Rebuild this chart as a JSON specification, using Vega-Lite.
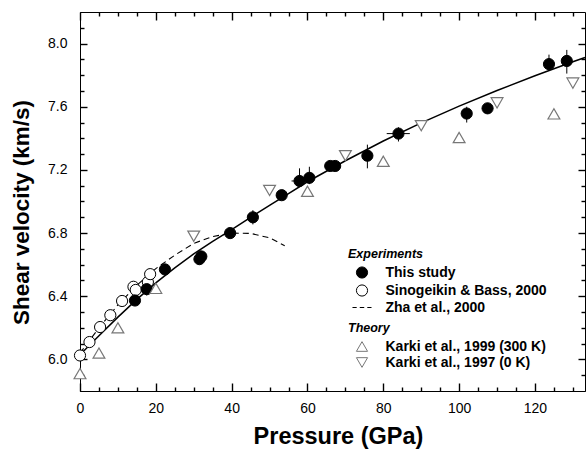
{
  "$schema": "https://vega.github.io/schema/vega-lite/v6.json",
  "width": 505,
  "height": 379,
  "autosize": {"type": "none"},
  "padding": {"left": 80, "top": 12, "right": 1, "bottom": 59},
  "background": "white",
  "config": {
    "view": {"stroke": "black", "strokeWidth": 1},
    "font": "Liberation Sans",
    "axis": {
      "domainColor": "black", "domainWidth": 1, "tickColor": "black", "tickWidth": 1.4, "ticks": true,
      "labelColor": "black", "titleColor": "black",
      "labelFont": "Liberation Sans", "titleFont": "Liberation Sans",
      "labelFontSize": 14, "titleFontSize": 23, "titleFontWeight": "bold",
      "grid": false, "labelOverlap": false, "labelFlush": false, "labelBound": false, "zindex": 1
    },
    "legend": {
      "titleFont": "Liberation Sans", "titleFontSize": 12.5, "titleFontStyle": "italic", "titleFontWeight": "bold",
      "titleColor": "black", "labelColor": "black", "labelLimit": 0,
      "labelFont": "Liberation Sans", "labelFontSize": 14, "labelFontWeight": "bold",
      "symbolSize": 125, "symbolOffset": 7, "labelOffset": 16.5,
      "rowPadding": 2, "titlePadding": 5, "padding": 0, "symbolStrokeWidth": 1
    }
  },
  "datasets": {
    "fit": [
      {"P": 0, "V": 6.03}, {"P": 5, "V": 6.15}, {"P": 10, "V": 6.268}, {"P": 15, "V": 6.38},
      {"P": 20, "V": 6.485}, {"P": 25, "V": 6.58}, {"P": 30, "V": 6.668}, {"P": 35, "V": 6.748},
      {"P": 40, "V": 6.822}, {"P": 45, "V": 6.9}, {"P": 50, "V": 6.975}, {"P": 55, "V": 7.05},
      {"P": 60, "V": 7.125}, {"P": 70, "V": 7.258}, {"P": 80, "V": 7.383}, {"P": 90, "V": 7.498},
      {"P": 100, "V": 7.604}, {"P": 110, "V": 7.703}, {"P": 120, "V": 7.796}, {"P": 130, "V": 7.885},
      {"P": 133.2, "V": 7.912}
    ],
    "zha": [
      {"P": 0, "V": 6.04}, {"P": 5, "V": 6.2}, {"P": 10, "V": 6.345}, {"P": 15, "V": 6.47},
      {"P": 20, "V": 6.575}, {"P": 25, "V": 6.66}, {"P": 30, "V": 6.735}, {"P": 35, "V": 6.778},
      {"P": 40, "V": 6.8}, {"P": 45, "V": 6.798}, {"P": 50, "V": 6.77}, {"P": 54, "V": 6.72}
    ],
    "yerr": [
      {"P": 17.6, "lo": 6.405, "hi": 6.485}, {"P": 31.7, "lo": 6.6, "hi": 6.69},
      {"P": 39.6, "lo": 6.775, "hi": 6.825}, {"P": 45.6, "lo": 6.855, "hi": 6.945},
      {"P": 57.9, "lo": 7.1, "hi": 7.21}, {"P": 60.5, "lo": 7.11, "hi": 7.22},
      {"P": 75.8, "lo": 7.21, "hi": 7.36}, {"P": 84.0, "lo": 7.38, "hi": 7.47},
      {"P": 102.0, "lo": 7.5, "hi": 7.6}, {"P": 123.7, "lo": 7.83, "hi": 7.93},
      {"P": 128.4, "lo": 7.81, "hi": 7.96}
    ],
    "xerr": [
      {"V": 7.13, "lo": 55.8, "hi": 59.8}, {"V": 7.43, "lo": 80.9, "hi": 87.0}
    ],
    "exp": [
      {"series": "Sinogeikin & Bass, 2000", "P": 0, "V": 6.025},
      {"series": "Sinogeikin & Bass, 2000", "P": 2.5, "V": 6.11},
      {"series": "Sinogeikin & Bass, 2000", "P": 5.3, "V": 6.205},
      {"series": "Sinogeikin & Bass, 2000", "P": 8.0, "V": 6.28},
      {"series": "Sinogeikin & Bass, 2000", "P": 11.1, "V": 6.37},
      {"series": "Sinogeikin & Bass, 2000", "P": 14.1, "V": 6.46},
      {"series": "Sinogeikin & Bass, 2000", "P": 14.7, "V": 6.44},
      {"series": "Sinogeikin & Bass, 2000", "P": 17.9, "V": 6.49},
      {"series": "Sinogeikin & Bass, 2000", "P": 18.5, "V": 6.54},
      {"series": "This study", "P": 14.5, "V": 6.373},
      {"series": "This study", "P": 17.6, "V": 6.445},
      {"series": "This study", "P": 22.4, "V": 6.57},
      {"series": "This study", "P": 31.5, "V": 6.635},
      {"series": "This study", "P": 32.0, "V": 6.652},
      {"series": "This study", "P": 39.6, "V": 6.8},
      {"series": "This study", "P": 45.6, "V": 6.9},
      {"series": "This study", "P": 53.2, "V": 7.04},
      {"series": "This study", "P": 57.9, "V": 7.13},
      {"series": "This study", "P": 60.5, "V": 7.15},
      {"series": "This study", "P": 66.0, "V": 7.225},
      {"series": "This study", "P": 67.3, "V": 7.225},
      {"series": "This study", "P": 75.8, "V": 7.29},
      {"series": "This study", "P": 84.0, "V": 7.43},
      {"series": "This study", "P": 102.0, "V": 7.557},
      {"series": "This study", "P": 107.5, "V": 7.59},
      {"series": "This study", "P": 123.7, "V": 7.87},
      {"series": "This study", "P": 128.4, "V": 7.89}
    ],
    "theory": [
      {"series": "Karki et al., 1999 (300 K)", "P": 0, "V": 5.91},
      {"series": "Karki et al., 1999 (300 K)", "P": 5, "V": 6.04},
      {"series": "Karki et al., 1999 (300 K)", "P": 10, "V": 6.2},
      {"series": "Karki et al., 1999 (300 K)", "P": 20, "V": 6.45},
      {"series": "Karki et al., 1999 (300 K)", "P": 60, "V": 7.065},
      {"series": "Karki et al., 1999 (300 K)", "P": 80, "V": 7.255},
      {"series": "Karki et al., 1999 (300 K)", "P": 100, "V": 7.405},
      {"series": "Karki et al., 1999 (300 K)", "P": 125, "V": 7.555},
      {"series": "Karki et al., 1997 (0 K)", "P": 30, "V": 6.78},
      {"series": "Karki et al., 1997 (0 K)", "P": 50, "V": 7.07},
      {"series": "Karki et al., 1997 (0 K)", "P": 70, "V": 7.29},
      {"series": "Karki et al., 1997 (0 K)", "P": 90, "V": 7.48},
      {"series": "Karki et al., 1997 (0 K)", "P": 110, "V": 7.625},
      {"series": "Karki et al., 1997 (0 K)", "P": 130, "V": 7.75}
    ]
  },
  "layer": [
    {
      "data": {"name": "fit"},
      "mark": {"type": "line", "color": "black", "strokeWidth": 1.5},
      "encoding": {
        "x": {
          "field": "P", "type": "quantitative",
          "scale": {"domain": [0, 133.2], "nice": false, "zero": false},
          "axis": {
            "orient": "bottom",
            "values": [0, 20, 40, 60, 80, 100, 120],
            "tickSize": -8,
            "labelPadding": 18,
            "title": "Pressure (GPa)",
            "titleFontSize": 23.5,
            "titleX": 258,
            "titlePadding": 9
          }
        },
        "y": {
          "field": "V", "type": "quantitative",
          "scale": {"domain": [5.8, 8.2], "nice": false, "zero": false},
          "axis": {
            "orient": "left",
            "values": [6.0, 6.4, 6.8, 7.2, 7.6, 8.0],
            "format": ".1f",
            "tickSize": -7,
            "labelPadding": 20,
            "title": "Shear velocity (km/s)",
            "titleFontSize": 22.5,
            "titleY": 200,
            "titlePadding": 14
          }
        }
      }
    },
    {
      "data": {"name": "zha"},
      "mark": {"type": "line", "color": "black", "strokeWidth": 1.1, "strokeDash": [6, 4]},
      "encoding": {
        "x": {
          "field": "P", "type": "quantitative",
          "axis": {"orient": "top", "values": [0, 20, 40, 60, 80, 100, 120], "labels": false, "domain": false, "tickSize": -8, "title": null}
        },
        "y": {
          "field": "V", "type": "quantitative",
          "axis": {"orient": "right", "values": [6.0, 6.4, 6.8, 7.2, 7.6, 8.0], "labels": false, "domain": false, "tickSize": -7, "title": null}
        }
      }
    },
    {
      "data": {"name": "yerr"},
      "mark": {"type": "rule", "color": "black", "strokeWidth": 1},
      "encoding": {
        "x": {
          "field": "P", "type": "quantitative",
          "axis": {"orient": "bottom", "values": [5,10,15,25,30,35,45,50,55,65,70,75,85,90,95,105,110,115,125,130], "labels": false, "domain": false, "tickSize": -4, "title": null}
        },
        "y": {
          "field": "lo", "type": "quantitative",
          "axis": {"orient": "left", "values": [5.9,6.1,6.2,6.3,6.5,6.6,6.7,6.9,7.0,7.1,7.3,7.4,7.5,7.7,7.8,7.9,8.1], "labels": false, "domain": false, "tickSize": -4, "title": null}
        },
        "y2": {"field": "hi"}
      }
    },
    {
      "data": {"name": "xerr"},
      "mark": {"type": "rule", "color": "black", "strokeWidth": 1},
      "encoding": {
        "x": {
          "field": "lo", "type": "quantitative",
          "axis": {"orient": "top", "values": [5,10,15,25,30,35,45,50,55,65,70,75,85,90,95,105,110,115,125,130], "labels": false, "domain": false, "tickSize": -4, "title": null}
        },
        "x2": {"field": "hi"},
        "y": {
          "field": "V", "type": "quantitative",
          "axis": {"orient": "right", "values": [5.9,6.1,6.2,6.3,6.5,6.6,6.7,6.9,7.0,7.1,7.3,7.4,7.5,7.7,7.8,7.9,8.1], "labels": false, "domain": false, "tickSize": -4, "title": null}
        }
      }
    },
    {
      "data": {"name": "exp"},
      "mark": {"type": "point", "stroke": "black", "strokeWidth": 1, "opacity": 1, "size": 125},
      "encoding": {
        "x": {"field": "P", "type": "quantitative", "axis": null},
        "y": {"field": "V", "type": "quantitative", "axis": null},
        "fill": {
          "field": "series", "type": "nominal",
          "scale": {"domain": ["This study", "Sinogeikin & Bass, 2000", "Zha et al., 2000"], "range": ["black", "white", "transparent"]},
          "legend": {"title": "Experiments", "orient": "none", "legendX": 268, "legendY": 236,
            "encode": {"symbols": {"update": {"stroke": {"value": "black"}, "strokeWidth": {"value": 1.4}}}}}
        },
        "shape": {
          "field": "series", "type": "nominal",
          "scale": {"domain": ["This study", "Sinogeikin & Bass, 2000", "Zha et al., 2000"], "range": ["circle", "circle", "M-1.7,0H-0.95M-0.4,0H0.4M0.95,0H1.7"]},
          "legend": {"title": "Experiments", "orient": "none", "legendX": 268, "legendY": 236,
            "encode": {"symbols": {"update": {"stroke": {"value": "black"}, "strokeWidth": {"value": 1.4}}}}}
        }
      }
    },
    {
      "data": {"name": "theory"},
      "mark": {"type": "point", "stroke": "#777777", "fill": "white", "filled": true, "strokeWidth": 1.2, "opacity": 1, "size": 140},
      "encoding": {
        "x": {"field": "P", "type": "quantitative", "axis": null},
        "y": {"field": "V", "type": "quantitative", "axis": null},
        "shape": {
          "field": "series", "type": "nominal",
          "scale": {"domain": ["Karki et al., 1999 (300 K)", "Karki et al., 1997 (0 K)"], "range": ["triangle-up", "triangle-down"]},
          "legend": {"title": "Theory", "orient": "none", "legendX": 268, "legendY": 310,
            "encode": {"symbols": {"update": {"stroke": {"value": "#777777"}, "fill": {"value": "white"}, "strokeWidth": {"value": 1.2}}}}}
        }
      }
    }
  ],
  "resolve": {
    "axis": {"x": "independent", "y": "independent"},
    "scale": {"shape": "independent", "fill": "independent"}
  }
}
